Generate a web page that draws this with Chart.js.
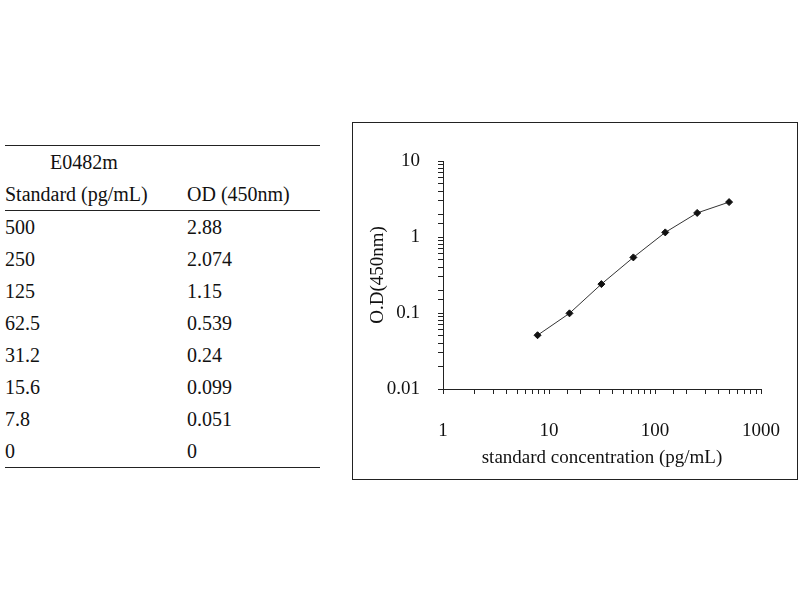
<!DOCTYPE html>
<html><head><meta charset="utf-8">
<script src="https://cdn.jsdelivr.net/npm/chart.js@4/dist/chart.umd.min.js"></script>
<style>
body{margin:0;width:800px;height:600px;background:#fff;font-family:"Liberation Serif",serif;position:relative;overflow:hidden}
#tbl{position:absolute;left:5px;top:145px;width:315px;border-collapse:collapse;font-size:20px;color:#111}
#tbl td{padding:0;height:32px;line-height:32px}
#box{position:absolute;left:352px;top:122px;width:444px;height:356px;border:1px solid #222}
</style></head><body>
<table id="tbl"></table>
<div id="box"><canvas id="c" width="444" height="356"></canvas></div>
<script>
var standards = ['500','250','125','62.5','31.2','15.6','7.8','0'];
var odValues = ['2.88','2.074','1.15','0.539','0.24','0.099','0.051','0'];
var concX = [7.8, 15.6, 31.2, 62.5, 125, 250, 500];
var odY = [0.051, 0.099, 0.24, 0.539, 1.15, 2.074, 2.88];

var t = document.getElementById('tbl');
var html = '<tr style="border-top:1px solid #222"><td colspan="2" style="padding-left:45px">E0482m</td></tr>';
html += '<tr style="border-bottom:1px solid #222"><td style="width:182px">Standard (pg/mL)</td><td>OD (450nm)</td></tr>';
for (var i = 0; i < standards.length; i++) {
  html += '<tr' + (i == standards.length - 1 ? ' style="border-bottom:1px solid #222"' : '') + '><td>' + standards[i] + '</td><td>' + odValues[i] + '</td></tr>';
}
t.innerHTML = html;

var font = {family: 'Liberation Serif', size: 19};
function major(v) { var l = Math.log10(v); return Math.abs(l - Math.round(l)) < 1e-9; }
new Chart(document.getElementById('c'), {
  type: 'scatter',
  data: {datasets: [{
    data: concX.map(function (x, i) { return {x: x, y: odY[i]}; }),
    showLine: true, borderColor: '#333', borderWidth: 1,
    pointStyle: 'rectRot', pointRadius: 3.5, backgroundColor: '#111', pointBorderColor: '#111'
  }]},
  options: {
    responsive: false, animation: false,
    layout: {padding: {top: 38, right: 36, left: 14, bottom: 0}},
    plugins: {legend: {display: false}, tooltip: {enabled: false}},
    scales: {
      x: {type: 'logarithmic', min: 1, max: 1000,
        border: {color: '#222'},
        grid: {drawOnChartArea: false, color: '#222', tickLength: 5},
        ticks: {font: font, color: '#111', autoSkip: false, maxRotation: 0, padding: 26,
          callback: function (v) { return major(v) ? String(v) : ''; }},
        title: {display: true, text: 'standard concentration (pg/mL)', font: font, color: '#111', padding: {top: 0, bottom: 10}},
        afterFit: function (s) { s.height = 90; s.paddingRight = 0; }},
      y: {type: 'logarithmic', min: 0.01, max: 10,
        border: {color: '#222'},
        grid: {drawOnChartArea: false, color: '#222', tickLength: 5},
        ticks: {font: font, color: '#111', autoSkip: false, padding: 18,
          callback: function (v) { return major(v) ? String(v) : ''; }},
        title: {display: true, text: 'O.D(450nm)', font: font, color: '#111', padding: 0},
        afterFit: function (s) { s.width = 76; s.paddingTop = 0; s.paddingBottom = 0; }}
    }
  }
});
</script>
</body></html>
